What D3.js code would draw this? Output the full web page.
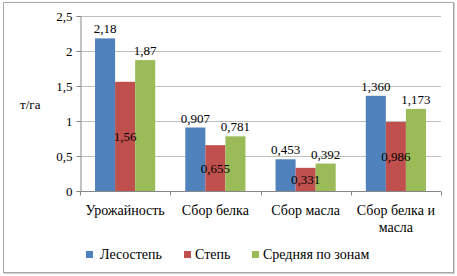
<!DOCTYPE html>
<html>
<head>
<meta charset="utf-8">
<script src="https://cdn.jsdelivr.net/npm/d3@7"></script>
<style>
  svg text, svg tspan { font-family: "Liberation Serif" !important; }
</style>
</head>
<body style="margin:0;background:#fff">
<svg id="chart" width="457" height="276"></svg>
<script>
const categories = [["Урожайность"], ["Сбор белка"], ["Сбор масла"], ["Сбор белка и", "масла"]];
const seriesNames = ["Лесостепь", "Степь", "Средняя по зонам"];
const lesostep = [2.18, 0.907, 0.453, 1.360];
const step = [1.56, 0.655, 0.331, 0.986];
const srednyaya = [1.87, 0.781, 0.392, 1.173];
const labelsLesostep = ["2,18", "0,907", "0,453", "1,360"];
const labelsStep = ["1,56", "0,655", "0,331", "0,986"];
const labelsSred = ["1,87", "0,781", "0,392", "1,173"];
const yTicks = [0, 0.5, 1, 1.5, 2, 2.5];
const colors = ["#4f81bd", "#c0504d", "#9bbb59"];

const series = [
  { name: seriesNames[0], values: lesostep, labels: labelsLesostep, pos: "top" },
  { name: seriesNames[1], values: step, labels: labelsStep, pos: "mid" },
  { name: seriesNames[2], values: srednyaya, labels: labelsSred, pos: "top" }
];

const FONT = '"Liberation Serif"';
const svg = d3.select("#chart");

// outer frame
svg.append("rect")
  .attr("x", 3.5).attr("y", 2.5)
  .attr("width", 450).attr("height", 270)
  .attr("fill", "#fff")
  .attr("stroke", "#a6a6a6");
svg.append("line").attr("x1", 4).attr("x2", 454).attr("y1", 273.5).attr("y2", 273.5).attr("stroke", "#d0d0d0");
svg.append("line").attr("x1", 454.5).attr("x2", 454.5).attr("y1", 3).attr("y2", 274).attr("stroke", "#d0d0d0");

const plotLeft = 80, plotRight = 441, plotTop = 16, plotBottom = 191;

const x = d3.scaleBand()
  .domain(d3.range(categories.length))
  .range([plotLeft, plotRight]);

const barW = x.bandwidth() / 4.5;

const y = d3.scaleLinear()
  .domain([0, 2.5])
  .range([plotBottom, plotTop]);

// gridlines
svg.append("g").selectAll("line").data(yTicks.slice(1)).join("line")
  .attr("x1", plotLeft).attr("x2", plotRight)
  .attr("y1", d => Math.round(y(d)) + 0.5).attr("y2", d => Math.round(y(d)) + 0.5)
  .attr("stroke", "#bfbfbf");

// y axis
const yAxis = svg.append("g")
  .attr("transform", `translate(${plotLeft + 0.5},0)`)
  .call(d3.axisLeft(y).tickValues(yTicks).tickSize(4)
    .tickFormat(d => String(d).replace(".", ",")));
yAxis.attr("font-family", null).attr("font-size", null);
yAxis.select(".domain").attr("stroke", "#868686");
yAxis.selectAll(".tick line").attr("stroke", "#868686");
yAxis.selectAll(".tick text")
  .attr("x", -8)
  .style("font-size", "13px");

// bars
series.forEach((s, si) => {
  svg.append("g").selectAll("rect").data(s.values).join("rect")
    .attr("x", (d, i) => x(i) + barW * 0.75 + si * barW)
    .attr("y", d => y(d))
    .attr("width", barW)
    .attr("height", d => y(0) - y(d))
    .attr("fill", colors[si]);
});

// x axis
const xAxis = svg.append("g")
  .attr("transform", `translate(0,${plotBottom + 0.5})`);
xAxis.append("line")
  .attr("x1", plotLeft).attr("x2", plotRight)
  .attr("stroke", "#868686");
xAxis.selectAll(".tk").data(d3.range(categories.length + 1)).join("line")
  .attr("class", "tk")
  .attr("x1", d => Math.round(plotLeft + d * x.step()) + 0.5)
  .attr("x2", d => Math.round(plotLeft + d * x.step()) + 0.5)
  .attr("y1", 0).attr("y2", 4)
  .attr("stroke", "#868686");

// category labels
svg.append("g").selectAll("text").data(categories).join("text")
  .attr("x", (d, i) => x(i) + x.bandwidth() / 2)
  .attr("y", 215)
  .attr("text-anchor", "middle")
  .style("font-size", "14px")
  .each(function (d) {
    d3.select(this).selectAll("tspan").data(d).join("tspan")
      .attr("x", d3.select(this).attr("x"))
      .attr("dy", (t, j) => j === 0 ? 0 : 17)
      .text(t => t);
  });

// value labels
series.forEach((s, si) => {
  svg.append("g").selectAll("text").data(s.values).join("text")
    .attr("x", (d, i) => x(i) + barW * 0.75 + si * barW + barW / 2)
    .attr("y", d => s.pos === "top" ? y(d) - 5 : (y(d) + y(0)) / 2 + 5)
    .attr("text-anchor", "middle")
    .style("font-size", "13px")
    .text((d, i) => s.labels[i]);
});

// axis title
svg.append("text")
  .attr("x", 20).attr("y", 109)
  .style("font-size", "13px")
  .text("т/га");

// legend
const legendX = [86, 184, 252];
const legend = svg.append("g").selectAll("g").data(series).join("g")
  .attr("transform", (d, i) => `translate(${legendX[i]},251)`);
legend.append("rect")
  .attr("width", 7).attr("height", 7)
  .attr("fill", (d, i) => colors[i]);
legend.append("text")
  .attr("x", (d, i) => i === 0 ? 14 : 11)
  .attr("y", 8)
  .style("font-size", "14px")
  .text(d => d.name);

svg.selectAll("text, tspan")
  .attr("font-family", "Liberation Serif")
  .style("font-family", FONT)
  .attr("fill", "#000");
</script>
</body>
</html>
